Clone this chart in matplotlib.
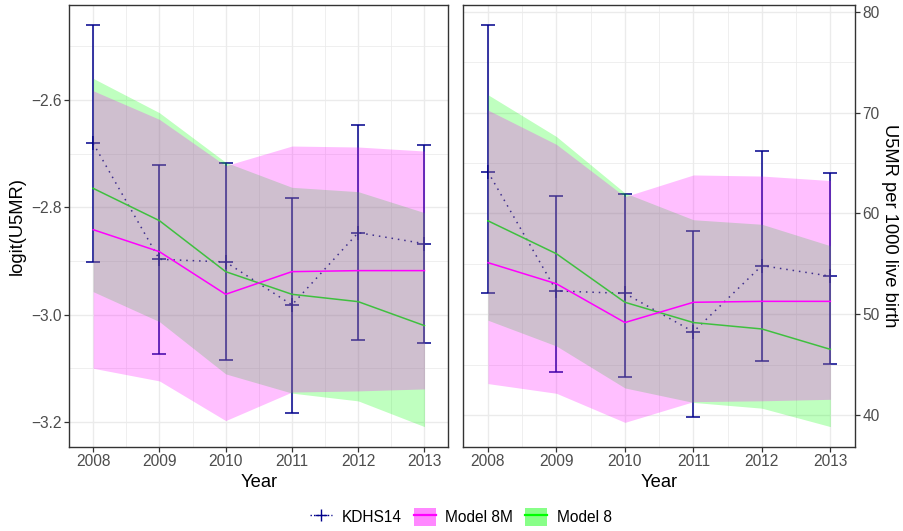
import numpy as np
import matplotlib
matplotlib.use("Agg")
import matplotlib.pyplot as plt
from matplotlib.ticker import MultipleLocator, FixedLocator
from matplotlib.patches import Patch
from matplotlib.lines import Line2D

plt.rcParams['font.family'] = ['Liberation Sans', 'DejaVu Sans']

years = [2008, 2009, 2010, 2011, 2012, 2013]

# KDHS14 direct estimates (logit scale) with interval bounds
kdhs_logit = [-2.6806, -2.8967, -2.9017, -2.9817, -2.8471, -2.8676]
kdhs_lo = [-2.9011, -3.0730, -3.0848, -3.1835, -3.0475, -3.0525]
kdhs_hi = [-2.4598, -2.7204, -2.7179, -2.7819, -2.6466, -2.6832]

# Model 8M estimates and bands (logit scale)
m8m_logit = [-2.8415, -2.8825, -2.9619, -2.9197, -2.9178, -2.9178]
m8m_lo = [-3.0997, -3.1233, -3.1972, -3.1440, -3.1419, -3.1382]
m8m_hi = [-2.5827, -2.6360, -2.7223, -2.6857, -2.6875, -2.6950]

# Model 8 estimates and bands (logit scale)
m8_logit = [-2.7645, -2.8247, -2.9197, -2.9619, -2.9756, -3.0203]
m8_lo = [-2.9570, -3.0128, -3.1102, -3.1460, -3.1605, -3.2084]
m8_hi = [-2.5596, -2.6236, -2.7160, -2.7626, -2.7707, -2.8098]

left_yticks = [-3.2, -3.0, -2.8, -2.6]
right_yticks = [40, 50, 60, 70, 80]


def per1000(v):
    v = np.asarray(v, dtype=float)
    return 1000.0 / (1.0 + np.exp(-v))


KDHS_COL = '#00008B'
MAG = '#FF00FF'
GRN = '#00FF00'
TICK_COL = '#4D4D4D'
EDGE_COL = '#333333'
GRID_COL = '#EBEBEB'

fig = plt.figure(figsize=(9.04, 5.31), dpi=100)
ax1 = fig.add_axes([69.3 / 904, 1 - 446.7 / 531, (448.3 - 69.3) / 904, (446.7 - 4.7) / 531])
ax2 = fig.add_axes([463.3 / 904, 1 - 446.7 / 531, (855.0 - 463.3) / 904, (446.7 - 4.7) / 531])


def draw_panel(ax, f):
    yr = np.array(years)
    k, klo, khi = f(kdhs_logit), f(kdhs_lo), f(kdhs_hi)
    # survey estimates: error bars and dotted connector, beneath the model bands
    ax.errorbar(yr, k, yerr=[k - klo, khi - k], fmt='none', ecolor=KDHS_COL,
                elinewidth=1.1, capsize=5, capthick=1.1, zorder=2)
    ax.plot(yr, k, color=KDHS_COL, lw=1.1, ls=(0, (1, 3.2)), zorder=2)
    ax.plot(yr, k, ls='none', marker='+', ms=10, mew=1.1, color=KDHS_COL, zorder=2)
    # Model 8
    ax.fill_between(yr, f(m8_lo), f(m8_hi), color=GRN, alpha=0.25, lw=0, zorder=3)
    ax.plot(yr, f(m8_logit), color=GRN, lw=1.1, zorder=4)
    # Model 8M
    ax.fill_between(yr, f(m8m_lo), f(m8m_hi), color=MAG, alpha=0.25, lw=0, zorder=5)
    ax.plot(yr, f(m8m_logit), color=MAG, lw=1.1, zorder=6)

    allv = np.concatenate([klo, khi, f(m8_lo), f(m8_hi), f(m8m_lo), f(m8m_hi)])
    lo, hi = allv.min(), allv.max()
    pad = 0.05 * (hi - lo)
    ax.set_ylim(lo - pad, hi + pad)
    ax.set_xlim(2008 - 0.1 - 0.26, 2013 + 0.1 + 0.26)

    ax.xaxis.set_major_locator(FixedLocator(years))
    ax.xaxis.set_minor_locator(MultipleLocator(0.5))
    ax.grid(True, which='major', color=GRID_COL, lw=1.0, zorder=0)
    ax.grid(True, which='minor', color=GRID_COL, lw=0.55, zorder=0)
    ax.set_axisbelow(True)
    for s in ax.spines.values():
        s.set_color(EDGE_COL)
        s.set_linewidth(1.0)
    ax.tick_params(which='major', length=3.5, width=0.9, color=EDGE_COL,
                   labelcolor=TICK_COL, labelsize=11.2, pad=2)
    ax.tick_params(which='minor', length=0)
    ax.set_xlabel('Year', fontsize=13.2, labelpad=3)


draw_panel(ax1, lambda v: np.asarray(v, dtype=float))
ax1.yaxis.set_major_locator(FixedLocator(left_yticks))
ax1.yaxis.set_minor_locator(MultipleLocator(0.1))
ax1.set_yticklabels([f'\u2212{abs(t):.1f}' for t in left_yticks])
ax1.set_ylabel('logit(U5MR)', fontsize=13.2, labelpad=4)

draw_panel(ax2, per1000)
ax2.yaxis.set_major_locator(FixedLocator(right_yticks))
ax2.yaxis.set_minor_locator(MultipleLocator(5))
ax2.yaxis.tick_right()
ax2.yaxis.set_label_position('right')
ax2.set_ylabel('U5MR per 1000 live birth', fontsize=13.2, rotation=270,
               labelpad=13)

# legend
h_kdhs = Line2D([], [], color=KDHS_COL, lw=1.0, ls=(0, (1, 1.5)), marker='+',
                ms=9, mew=1.0)
h_m8m = (Patch(facecolor='#FF88FF', edgecolor='none'),
         Line2D([], [], color=MAG, lw=1.6))
h_m8 = (Patch(facecolor='#88FF88', edgecolor='none'),
        Line2D([], [], color=GRN, lw=1.6))
fig.legend([h_kdhs, h_m8m, h_m8], ['KDHS14', 'Model 8M', 'Model 8'],
           loc='center', bbox_to_anchor=(461 / 904, 1 - 517 / 531), ncol=3,
           frameon=False, fontsize=11.2, handlelength=1.4, handleheight=1.4,
           handletextpad=0.6, columnspacing=0.8, borderpad=0)

fig.savefig('out.png', dpi=100)
